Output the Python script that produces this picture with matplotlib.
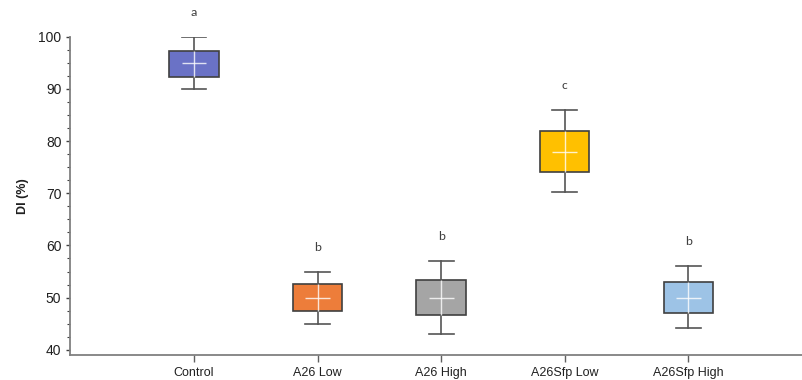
import matplotlib
matplotlib.use("Agg")
import matplotlib.pyplot as plt
from matplotlib.ticker import MultipleLocator

categories = ["Control", "A26 Low", "A26 High", "A26Sfp Low", "A26Sfp High"]
whislo = [90, 45, 43, 70.2, 44.1]
q1 = [92.3, 47.5, 46.6, 74.1, 47.1]
med = [95, 50, 50, 78, 50]
q3 = [97.3, 52.6, 53.4, 82, 52.9]
whishi = [100, 55, 57, 86, 56]
letters = ["a", "b", "b", "c", "b"]
colors = ["#6A72C6", "#ED7D3A", "#A5A5A5", "#FFC000", "#9DC3E6"]

plt.rcParams['font.family'] = ['Liberation Sans Narrow', 'Liberation Sans', 'DejaVu Sans']

fig = plt.figure(figsize=(8.02, 3.8), dpi=100)
ax = fig.add_axes([0.0878, 0.0658, 0.9122, 0.8376])

positions = list(range(1, len(categories) + 1))
stats = []
for i, c in enumerate(categories):
    stats.append(dict(label=c, whislo=whislo[i], q1=q1[i], med=med[i], q3=q3[i], whishi=whishi[i], fliers=[]))

bp = ax.bxp(stats, positions=positions, widths=0.40, patch_artist=True, showfliers=False,
            boxprops=dict(edgecolor="#404040", linewidth=1.2),
            whiskerprops=dict(color="#555555", linewidth=1.2),
            capprops=dict(color="#555555", linewidth=1.2),
            medianprops=dict(linewidth=0), capwidths=0.2, zorder=2)
for patch, col in zip(bp['boxes'], colors):
    patch.set_facecolor(col)

# white cross inside the boxes
ax.vlines(positions, q1, q3, colors="white", linewidth=1.0, alpha=0.8, zorder=3)
ax.hlines(med, [p - 0.1 for p in positions], [p + 0.1 for p in positions], colors="white", linewidth=1.0, alpha=0.8, zorder=3)

for p, top, lt in zip(positions, whishi, letters):
    ax.annotate(lt, (p, top), xytext=(0, 17.5), textcoords="offset points", ha="center", va="center",
                fontsize=9.5, color="#404040", family=['Carlito', 'Liberation Sans', 'DejaVu Sans'], annotation_clip=False)

ax.set_xlim(0, 5.92)
ax.set_ylim(39, 100)
ax.set_xticks(positions)
ax.set_xticklabels(categories, fontsize=9, color="#202020")
ax.yaxis.set_major_locator(MultipleLocator(10))
ax.yaxis.set_minor_locator(MultipleLocator(2.5))
ax.set_yticks([40, 50, 60, 70, 80, 90, 100])
ax.tick_params(axis='y', labelsize=10, colors="#404040", length=3, width=1.0, labelcolor="#202020")
ax.tick_params(axis='y', which='minor', length=2, width=0.8, colors="#404040")
ax.tick_params(axis='x', length=5, width=1.0, colors="#606060", labelcolor="#202020", pad=4)
for s in ['top', 'right']:
    ax.spines[s].set_visible(False)
for s in ['left', 'bottom']:
    ax.spines[s].set_color("#808080")
    ax.spines[s].set_linewidth(1.3)

ax.set_ylabel("DI (%)", fontsize=9, fontweight="bold", color="#202020", family=['Liberation Sans', 'DejaVu Sans'], labelpad=7)

fig.savefig("out.png", dpi=100)
